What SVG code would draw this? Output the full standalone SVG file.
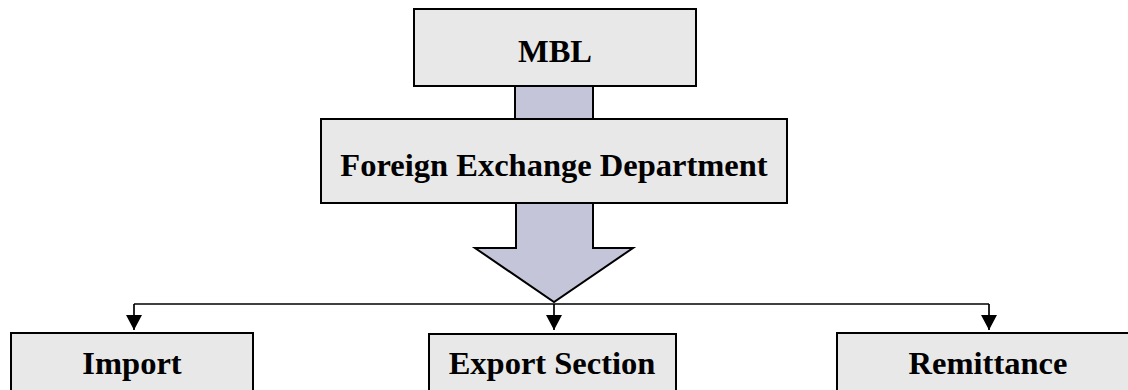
<svg xmlns="http://www.w3.org/2000/svg" width="1128" height="390" viewBox="0 0 1128 390">
<style>
.box{fill:#e8e8e8;stroke:#000;stroke-width:2}
.arr{fill:#c4c5d8;stroke:#000;stroke-width:2}
.lbl{font-family:"Liberation Serif","Times New Roman",serif;font-weight:bold;font-size:32.5px;fill:#000;text-anchor:middle}
.ln{fill:none;stroke:#000;stroke-width:1.7}
</style>
<defs>
<marker id="ah" markerUnits="userSpaceOnUse" markerWidth="16" markerHeight="16" refX="15" refY="8" orient="auto">
<path d="M0,0 L15,8 L0,16 Z" fill="#000"/>
</marker>
</defs>
<g id="connectors">
<rect class="arr" x="515" y="86" width="78" height="33"/>
<path class="arr" d="M516,203 L516,248 L475,248 L554,302 L633,248 L593,248 L593,203"/>
<path class="ln" d="M134,304 L989,304"/>
<path class="ln" d="M134,304 L134,330" marker-end="url(#ah)"/>
<path class="ln" d="M554,304 L554,330" marker-end="url(#ah)"/>
<path class="ln" d="M989,304 L989,330" marker-end="url(#ah)"/>
</g>
<g id="mbl">
<rect class="box" x="414" y="9" width="282" height="77"/>
<text class="lbl" x="555" y="62">MBL</text>
</g>
<g id="fed">
<rect class="box" x="321" y="119" width="466" height="84"/>
<text class="lbl" x="554" y="176">Foreign Exchange Department</text>
</g>
<g id="import">
<rect class="box" x="11" y="333" width="242" height="70"/>
<text class="lbl" x="132" y="374">Import</text>
</g>
<g id="export">
<rect class="box" x="429" y="334" width="247" height="70"/>
<text class="lbl" x="552" y="374">Export Section</text>
</g>
<g id="remittance">
<rect class="box" x="837" y="333" width="310" height="70"/>
<text class="lbl" x="988" y="374">Remittance</text>
</g>
</svg>
